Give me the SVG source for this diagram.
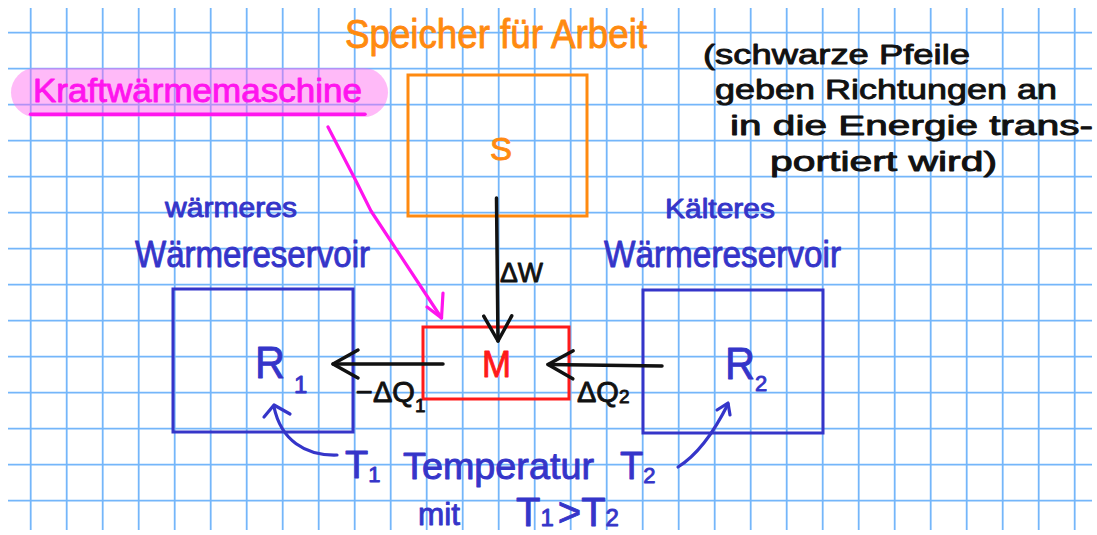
<svg xmlns="http://www.w3.org/2000/svg" width="1097" height="535" viewBox="0 0 1097 535">
<style>
.grid{stroke:#74b6fa;stroke-width:1.8;fill:none}
.t{font-family:"Liberation Sans","DejaVu Sans",sans-serif;stroke-width:0.9;stroke-linejoin:round}
.blue{fill:#3535c9;stroke:#3535c9}
.bbox{fill:none;stroke:#3535c9;stroke-width:3}
.blk{fill:#111;stroke:#111}
.conn{fill:none;stroke:#111;stroke-width:3.5;stroke-linecap:round}
.mag{fill:none;stroke:#ff14ee;stroke-width:3.2;stroke-linecap:round;stroke-linejoin:round}
.bcur{fill:none;stroke:#3535c9;stroke-width:3.2;stroke-linecap:round;stroke-linejoin:round}
</style>
<defs>
<marker id="vhead" markerUnits="userSpaceOnUse" markerWidth="34" markerHeight="40" viewBox="-30 -20 34 40" refX="0" refY="0" orient="auto" overflow="visible">
<path d="M-25,-14 L0,0 L-25,14" fill="none" stroke="#111" stroke-width="3.5" stroke-linecap="round" stroke-linejoin="round"/>
</marker>
</defs>
<rect width="1097" height="535" fill="#ffffff"/>
<g id="grid">
<path class="grid" d="M30.7,8V530M66.7,8V530M102.7,8V530M138.7,8V530M174.7,8V530M210.7,8V530M246.7,8V530M282.7,8V530M318.7,8V530M354.7,8V530M390.7,8V530M426.7,8V530M462.7,8V530M498.7,8V530M534.7,8V530M570.7,8V530M606.7,8V530M642.7,8V530M678.7,8V530M714.7,8V530M750.7,8V530M786.7,8V530M822.7,8V530M858.7,8V530M894.7,8V530M930.7,8V530M966.7,8V530M1002.7,8V530M1038.7,8V530M1074.7,8V530"/>
<path class="grid" d="M8,32.7H1092M8,68.7H1092M8,104.7H1092M8,140.7H1092M8,176.7H1092M8,212.7H1092M8,248.7H1092M8,284.7H1092M8,320.7H1092M8,356.7H1092M8,392.7H1092M8,428.7H1092M8,464.7H1092M8,500.7H1092"/>
</g>
<g id="label-kraftwaermemaschine">
<rect x="11" y="68" width="377" height="49" rx="24.5" fill="#ff66f0" opacity="0.45"/>
<text class="t" x="33" y="102" font-size="33" fill="#ff14ee" stroke="#ff14ee" textLength="329" lengthAdjust="spacingAndGlyphs">Kraftwärmemaschine</text>
<line x1="30.5" y1="114.3" x2="365" y2="114.3" stroke="#ff14ee" stroke-width="3.5" stroke-linecap="round"/>
</g>
<g id="speicher">
<text class="t" x="345" y="48" font-size="40" fill="#ff8a10" stroke="#ff8a10" textLength="302" lengthAdjust="spacingAndGlyphs">Speicher für Arbeit</text>
<rect x="408" y="75" width="179" height="141" fill="none" stroke="#ff8a10" stroke-width="3"/>
<text class="t" x="490" y="160" font-size="32" fill="#ff8a10" stroke="#ff8a10" textLength="22" lengthAdjust="spacingAndGlyphs">S</text>
</g>
<g id="note">
<text class="t blk" x="703" y="64" font-size="28" textLength="267" lengthAdjust="spacingAndGlyphs">(schwarze Pfeile</text>
<text class="t blk" x="715" y="99" font-size="28" textLength="342" lengthAdjust="spacingAndGlyphs">geben Richtungen an</text>
<text class="t blk" x="730" y="135" font-size="28" textLength="363" lengthAdjust="spacingAndGlyphs">in die Energie trans-</text>
<text class="t blk" x="770" y="171" font-size="28" textLength="227" lengthAdjust="spacingAndGlyphs">portiert wird)</text>
</g>
<g id="reservoir-r1">
<text class="t blue" x="165" y="217" font-size="27" textLength="132" lengthAdjust="spacingAndGlyphs">wärmeres</text>
<text class="t blue" x="135" y="267" font-size="36" textLength="235" lengthAdjust="spacingAndGlyphs">Wärmereservoir</text>
<rect class="bbox" x="173" y="289" width="180" height="143"/>
<text class="t blue" x="255" y="378" font-size="44" textLength="30" lengthAdjust="spacingAndGlyphs">R</text>
<text class="t blue" x="294" y="393" font-size="24">1</text>
</g>
<g id="reservoir-r2">
<text class="t blue" x="665" y="218" font-size="27" textLength="110" lengthAdjust="spacingAndGlyphs">Kälteres</text>
<text class="t blue" x="604" y="267" font-size="36" textLength="237" lengthAdjust="spacingAndGlyphs">Wärmereservoir</text>
<rect class="bbox" x="643" y="290" width="180" height="143"/>
<text class="t blue" x="725" y="379" font-size="44" textLength="30" lengthAdjust="spacingAndGlyphs">R</text>
<text class="t blue" x="755" y="391" font-size="22">2</text>
</g>
<g id="machine-m">
<rect x="423" y="327" width="146" height="72" fill="none" stroke="#ff1a1a" stroke-width="3"/>
<text class="t" x="482" y="377" font-size="36" fill="#ff1a1a" stroke="#ff1a1a" textLength="29" lengthAdjust="spacingAndGlyphs">M</text>
</g>
<g id="temperature">
<text class="t blue" x="345" y="478" font-size="38">T<tspan font-size="22" dy="4">1</tspan></text>
<text class="t blue" x="403" y="479" font-size="36" textLength="191" lengthAdjust="spacingAndGlyphs">Temperatur</text>
<text class="t blue" x="620" y="479" font-size="38">T<tspan font-size="22" dy="4">2</tspan></text>
<text class="t blue" x="418" y="525" font-size="32" textLength="42" lengthAdjust="spacingAndGlyphs">mit</text>
<text class="t blue" x="516" y="526" font-size="40">T<tspan font-size="24">1</tspan><tspan dx="4">&gt;</tspan><tspan>T</tspan><tspan font-size="24">2</tspan></text>
</g>
<g id="connectors">
<line class="conn" x1="496.5" y1="198" x2="498" y2="341" marker-end="url(#vhead)"/>
<text class="t blk" x="500" y="282" font-size="27" textLength="43" lengthAdjust="spacingAndGlyphs">ΔW</text>
<line class="conn" x1="443" y1="364" x2="333" y2="364" marker-end="url(#vhead)"/>
<text class="t blk" x="356" y="402" font-size="29">−ΔQ<tspan font-size="19" dy="10">1</tspan></text>
<line class="conn" x1="662" y1="366" x2="548" y2="364.5" marker-end="url(#vhead)"/>
<text class="t blk" x="577" y="402" font-size="29">ΔQ<tspan font-size="19" dy="1">2</tspan></text>
<path class="mag" d="M328,127 L356,181 L371,211 L441.5,318"/>
<polyline class="mag" points="427,307 441.5,318 443,293"/>
<path class="bcur" d="M337,455 C305,456 281,440 274,407"/>
<polyline class="bcur" points="264,417 274,405 290,414"/>
<path class="bcur" d="M678,467 C699,454 715,430 728,404"/>
<polyline class="bcur" points="717,410 728,403 730,415"/>
</g>
</svg>
